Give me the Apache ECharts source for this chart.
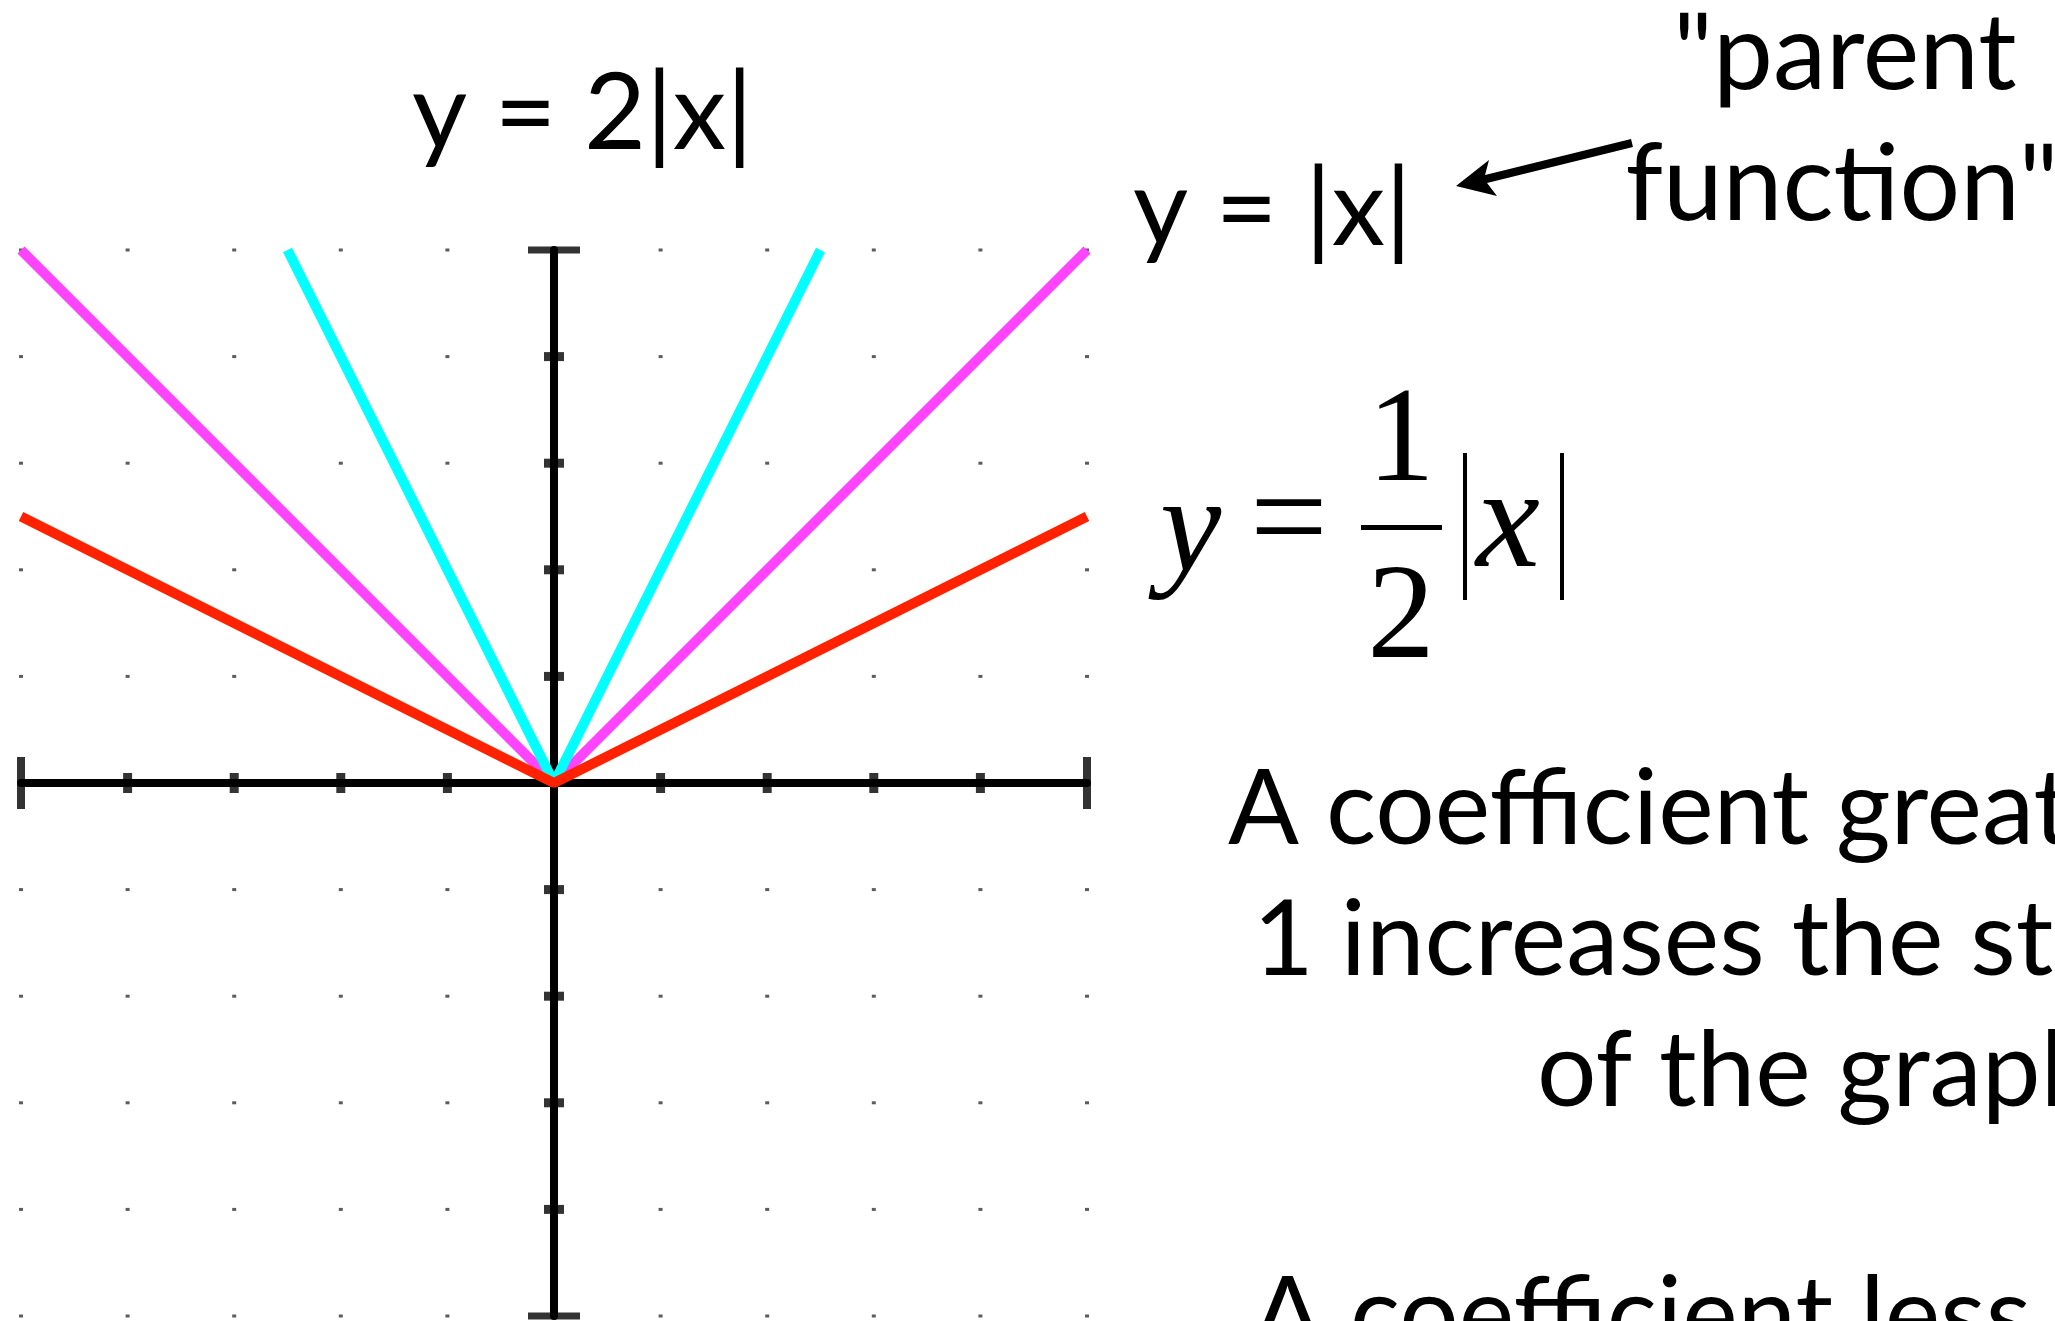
<!DOCTYPE html>
<html>
<head>
<meta charset="utf-8">
<script src="https://cdn.jsdelivr.net/npm/echarts@6/dist/echarts.min.js"></script>
<style>
  html, body { margin: 0; padding: 0; background: #fff; }
  #main { width: 2055px; height: 1321px; }
</style>
</head>
<body>
<div id="main"></div>
<script>
// grid values
var xTicks = [-5, -4, -3, -2, -1, 0, 1, 2, 3, 4, 5];
var yTicks = [-5, -4, -3, -2, -1, 0, 1, 2, 3, 4, 5];

// y = |x|  (parent function)
var parentX = [-5, 0, 5];
var parentY = [5, 0, 5];
// y = 2|x|
var steepX = [-2.5, 0, 2.5];
var steepY = [5, 0, 5];
// y = 1/2|x|
var flatX = [-5, 0, 5];
var flatY = [2.5, 0, 2.5];

function pairs(xs, ys) {
    return xs.map(function (x, i) { return [x, ys[i]]; });
}

// little dots on every grid point off the axes
var dots = [];
xTicks.forEach(function (x) {
    yTicks.forEach(function (y) {
        if (x !== 0 && y !== 0) dots.push([x, y]);
    });
});

var xMin = xTicks[0], xMax = xTicks[xTicks.length - 1];
var yMin = yTicks[0], yMax = yTicks[yTicks.length - 1];

// tick marks crossing the axes, end caps bigger
var xTickMarks = [], yTickMarks = [];
xTicks.forEach(function (x) {
    if (x === 0) return;
    var cap = (x === xMin || x === xMax);
    xTickMarks.push({ value: [x, 0], symbolSize: cap ? [8, 52] : [9, 20] });
});
yTicks.forEach(function (y) {
    if (y === 0) return;
    var cap = (y === yMin || y === yMax);
    yTickMarks.push({ value: [0, y], symbolSize: cap ? [52, 7] : [20, 9] });
});

var SANS = 'Lato';
var SERIF = '"Liberation Serif"';

function label(x, y, str, opt) {
    opt = opt || {};
    return {
        type: 'text',
        x: x,
        y: y,
        z: 100,
        style: {
            text: str,
            font: (opt.style || 'normal') + ' ' + (opt.size || 105) + 'px ' + (opt.family || SANS),
            fill: '#000',
            align: opt.align || 'left',
            verticalAlign: 'middle'
        }
    };
}

option = {
    animation: false,
    backgroundColor: '#fff',
    grid: {
        left: 21,
        top: 250,
        width: 1066,
        height: 1066
    },
    xAxis: {
        type: 'value',
        min: xMin,
        max: xMax,
        interval: 1,
        axisLine: {
            show: true,
            onZero: true,
            lineStyle: { color: '#000', width: 8 }
        },
        axisTick: { show: false },
        axisLabel: { show: false },
        splitLine: { show: false }
    },
    yAxis: {
        type: 'value',
        min: yMin,
        max: yMax,
        interval: 1,
        axisLine: {
            show: true,
            onZero: true,
            lineStyle: { color: '#000', width: 8 }
        },
        axisTick: { show: false },
        axisLabel: { show: false },
        splitLine: { show: false }
    },
    series: [
        {
            name: 'dots',
            type: 'scatter',
            symbol: 'rect',
            symbolSize: [4, 3],
            clip: false,
            silent: true,
            itemStyle: { color: '#333' },
            data: dots
        },
        {
            name: 'xticks',
            type: 'scatter',
            symbol: 'rect',
            clip: false,
            silent: true,
            z: 3,
            itemStyle: { color: '#000' },
            data: xTickMarks
        },
        {
            name: 'yticks',
            type: 'scatter',
            symbol: 'rect',
            clip: false,
            silent: true,
            z: 3,
            itemStyle: { color: '#000' },
            data: yTickMarks
        },
        {
            name: 'y = |x|',
            type: 'line',
            symbol: 'none',
            z: 4,
            lineStyle: { color: '#ff44ff', width: 10 },
            data: pairs(parentX, parentY)
        },
        {
            name: 'y = 2|x|',
            type: 'line',
            symbol: 'none',
            z: 5,
            lineStyle: { color: '#00ffff', width: 10 },
            data: pairs(steepX, steepY)
        },
        {
            name: 'y = 1/2|x|',
            type: 'line',
            symbol: 'none',
            z: 6,
            lineStyle: { color: '#ff2200', width: 10 },
            data: pairs(flatX, flatY)
        }
    ],
    graphic: [
        label(412, 114, 'y = 2|x|', { size: 107 }),
        label(1133, 210, 'y = |x|', { size: 107 }),
        label(1845, 54, '"parent', { align: 'center', size: 107 }),
        label(1842, 185, 'function"', { align: 'center', size: 107 }),

        // y = 1/2 |x| in a serif
        label(1160, 535, 'y', { family: SERIF, style: 'italic', size: 138 }),
        label(1250, 527, '=', { family: SERIF, size: 138 }),
        label(1401, 445, '1', { family: SERIF, size: 135, align: 'center' }),
        label(1401, 622, '2', { family: SERIF, size: 135, align: 'center' }),
        label(1476, 528, 'x', { family: SERIF, style: 'italic', size: 144 }),
        { type: 'rect', z: 100, shape: { x: 1361, y: 525, width: 81, height: 5 }, style: { fill: '#000' } },
        { type: 'rect', z: 100, shape: { x: 1463, y: 453, width: 4, height: 147 }, style: { fill: '#000' } },
        { type: 'rect', z: 100, shape: { x: 1560, y: 453, width: 4, height: 147 }, style: { fill: '#000' } },

        // arrow pointing at the parent function
        {
            type: 'line', z: 100,
            shape: { x1: 1632, y1: 143, x2: 1482, y2: 180 },
            style: { stroke: '#000', lineWidth: 8 }
        },
        {
            type: 'polygon', z: 100,
            shape: { points: [[1456, 186], [1489, 160], [1484, 179], [1497, 196]] },
            style: { fill: '#000' }
        },

        label(1228, 810, 'A coefficient greater than'),
        label(1253, 941, '1 increases the steepness'),
        label(1537, 1072, 'of the graph.'),
        label(1252, 1317, 'A coefficient less than 1')
    ]
};

var chart = echarts.init(document.getElementById('main'));
chart.setOption(option);
</script>
</body>
</html>
